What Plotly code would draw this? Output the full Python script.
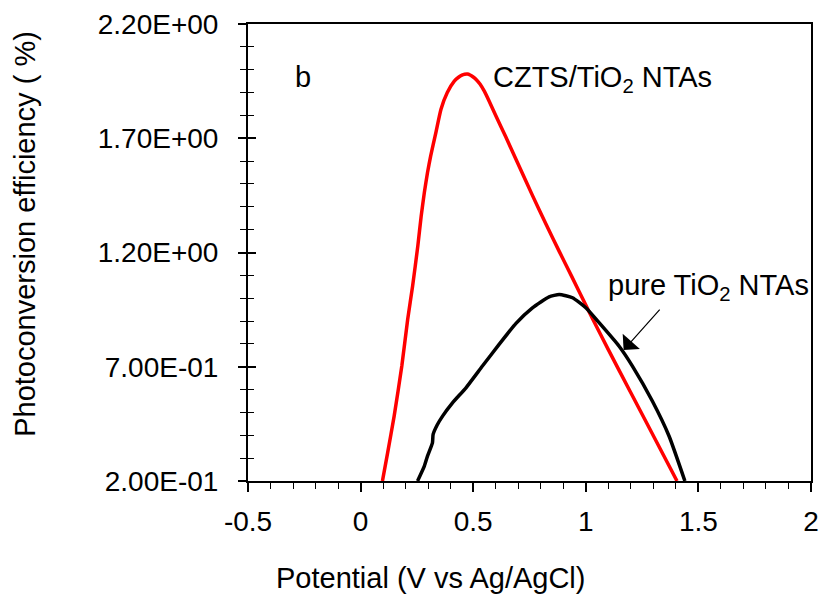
import plotly.graph_objects as go

# CZTS/TiO2 NTAs (red)
czts_x = [0.097, 0.120, 0.149, 0.183, 0.209, 0.231, 0.254, 0.269, 0.283, 0.297, 0.311, 0.334,
          0.357, 0.385, 0.416, 0.435, 0.450, 0.462, 0.474, 0.486, 0.500, 0.515, 0.530, 0.550,
          0.571, 0.600, 0.645, 0.705, 0.763, 0.823, 0.882, 0.940, 1.000, 1.030, 1.100, 1.200,
          1.300, 1.405]
czts_y = [0.200, 0.323, 0.484, 0.703, 0.907, 1.053, 1.228, 1.359, 1.462, 1.549, 1.622, 1.724,
          1.827, 1.900, 1.950, 1.967, 1.976, 1.980, 1.981, 1.977, 1.968, 1.955, 1.937, 1.905,
          1.862, 1.800, 1.705, 1.575, 1.450, 1.325, 1.205, 1.090, 0.970, 0.910, 0.775, 0.586,
          0.398, 0.200]

# pure TiO2 NTAs (black)
tio2_x = [0.253, 0.283, 0.297, 0.319, 0.322, 0.340, 0.364, 0.408, 0.468, 0.541, 0.615, 0.690,
          0.763, 0.837, 0.882, 0.941, 1.000, 1.059, 1.148, 1.207, 1.296, 1.370, 1.440]
tio2_y = [0.200, 0.265, 0.309, 0.367, 0.404, 0.445, 0.484, 0.542, 0.608, 0.703, 0.798, 0.890,
          0.958, 1.006, 1.016, 1.002, 0.958, 0.893, 0.790, 0.703, 0.549, 0.396, 0.200]

y_tickvals = [0.2, 0.7, 1.2, 1.7, 2.2]
y_ticktext = ["2.00E-01", "7.00E-01", "1.20E+00", "1.70E+00", "2.20E+00"]
x_tickvals = [-0.5, 0, 0.5, 1, 1.5, 2]
x_ticktext = ["-0.5", "0", "0.5", "1", "1.5", "2"]

FONT = "Liberation Sans, Arial, sans-serif"
FS_TICK = 28
FS_TEXT = 29

fig = go.Figure()
fig.add_trace(go.Scatter(x=czts_x, y=czts_y, mode="lines",
                         line=dict(color="#ff0000", width=3.5, shape="spline", smoothing=0.5),
                         showlegend=False, hoverinfo="skip"))
fig.add_trace(go.Scatter(x=tio2_x, y=tio2_y, mode="lines",
                         line=dict(color="#000000", width=3.5, shape="spline", smoothing=0.5),
                         showlegend=False, hoverinfo="skip"))
# invisible trace for inside-tick overlay axis
fig.add_trace(go.Scatter(x=[None], y=[None], yaxis="y2", showlegend=False, hoverinfo="skip"))

fig.update_layout(
    width=822, height=600,
    margin=dict(l=248, r=11, t=24, b=119),
    paper_bgcolor="white", plot_bgcolor="white",
    font=dict(family=FONT, size=FS_TICK, color="black"),
    xaxis=dict(range=[-0.5, 2], tickvals=x_tickvals, ticktext=x_ticktext, automargin=False,
               showgrid=False, zeroline=False, showline=True, linecolor="black", linewidth=2,
               mirror=True, ticks="outside", ticklen=9, tickwidth=1.5, tickcolor="black",
               minor=dict(dtick=0.1, tick0=0, ticks="outside", ticklen=6, tickwidth=1.2,
                          tickcolor="black", showgrid=False),
               ticklabelstandoff=5),
    yaxis=dict(range=[0.2, 2.2], tickvals=y_tickvals, ticktext=y_ticktext, automargin=False,
               showgrid=False, zeroline=False, showline=True, linecolor="black", linewidth=2,
               mirror=True, ticks="outside", ticklen=8, tickwidth=1.5, tickcolor="black",
               minor=dict(dtick=0.1, tick0=0.2, ticks="outside", ticklen=6, tickwidth=1.2,
                          tickcolor="black", showgrid=False),
               ticklabelstandoff=14),
    yaxis2=dict(range=[0.2, 2.2], overlaying="y", side="left", showticklabels=False,
                automargin=False,
                tickvals=y_tickvals, showgrid=False, zeroline=False, showline=False,
                ticks="inside", ticklen=8, tickwidth=1.5, tickcolor="black",
                minor=dict(dtick=0.1, tick0=0.2, ticks="inside", ticklen=6, tickwidth=1.2,
                           tickcolor="black", showgrid=False)),
)

fig.add_annotation(text="Potential (V vs Ag/AgCl)", xref="paper", yref="paper",
                   x=0.325, y=-0.212, showarrow=False, xanchor="center", yanchor="middle",
                   font=dict(size=FS_TEXT))
fig.add_annotation(text="Photoconversion efficiency ( %)", xref="paper", yref="paper",
                   x=-0.395, y=0.540, showarrow=False, textangle=-90,
                   xanchor="center", yanchor="middle", font=dict(size=FS_TEXT))
fig.add_annotation(text="b", x=-0.256, y=1.967, xref="x", yref="y", showarrow=False,
                   xanchor="center", yanchor="middle", font=dict(size=FS_TEXT))
fig.add_annotation(text="CZTS/TiO<sub>2</sub> NTAs", x=0.581, y=1.958, xref="x", yref="y",
                   showarrow=False, xanchor="left", yanchor="middle", font=dict(size=FS_TEXT))
fig.add_annotation(text="pure TiO<sub>2</sub> NTAs", x=1.090, y=1.047, xref="x", yref="y",
                   showarrow=False, xanchor="left", yanchor="middle", font=dict(size=FS_TEXT))
fig.add_annotation(text="", x=1.168, y=0.773, ax=1.334, ay=0.957, xref="x", yref="y",
                   axref="x", ayref="y", showarrow=True, arrowhead=1, arrowsize=3.2,
                   arrowwidth=1.2, arrowcolor="black")

fig.write_html("out.html", config={"displayModeBar": False},
               post_script="document.body.style.margin='0';document.body.style.overflow='hidden';")
